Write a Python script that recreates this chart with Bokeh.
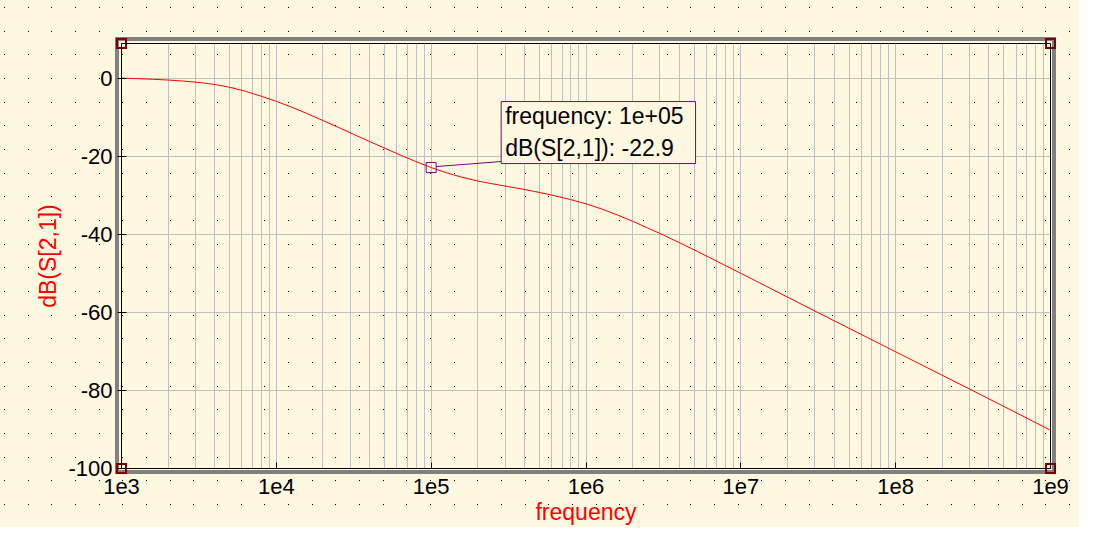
import math
from urllib.parse import quote
from bokeh.plotting import figure
from bokeh.models import FixedTicker, Label, Range1d
from bokeh.embed import file_html
from bokeh.resources import INLINE

# ---- data ----
freq = [1000, 1259, 1585, 1995, 2512, 3162, 3981, 5012, 6310, 7943,
        1.0e4, 1.259e4, 1.585e4, 1.995e4, 2.512e4, 3.162e4, 3.981e4, 5.012e4, 6.310e4, 7.943e4,
        1.0e5, 1.259e5, 1.585e5, 1.995e5, 2.512e5, 3.162e5, 3.981e5, 5.012e5, 6.310e5, 7.943e5,
        1.0e6, 1.259e6, 1.585e6, 1.995e6, 2.512e6, 3.162e6, 3.981e6, 5.012e6, 6.310e6, 7.943e6,
        1.0e7, 3.162e7, 1.0e8, 3.162e8, 1.0e9]
db_s21 = [0.0, -0.12, -0.28, -0.48, -0.75, -1.1, -1.6, -2.35, -3.35, -4.6,
          -5.95, -7.45, -9.1, -10.85, -12.6, -14.4, -16.2, -17.95, -19.7, -21.35,
          -22.9, -24.25, -25.4, -26.35, -27.1, -27.8, -28.5, -29.3, -30.15, -31.1,
          -32.2, -33.5, -35.0, -36.65, -38.4, -40.2, -42.1, -44.0, -46.0, -48.0,
          -50.0, -60.1, -70.1, -80.1, -90.2]

x_ticks = [1e3, 1e4, 1e5, 1e6, 1e7, 1e8, 1e9]
x_tick_labels = ["1e3", "1e4", "1e5", "1e6", "1e7", "1e8", "1e9"]
y_ticks = [-100, -80, -60, -40, -20, 0]
y_tick_labels = ["-100", "-80", "-60", "-40", "-20", "0"]

marker_freq = 1e5
marker_db = -22.9
marker_text = "frequency: 1e+05\ndB(S[2,1]): -22.9"

x_lo, x_hi = 1e3, 1e9
y_lo, y_hi = -100.0, 8.88

# ---- layout ----
FW, FH = 929, 425
BL, BR, BT, BB = 121, 29, 43, 57
W, H = BL + FW + BR, BT + FH + BB
BG = "#FFF8E1"
FONT = "Liberation Sans"
FS = "22px"
FS_LABEL = "23px"

# decorative schematic sheet: dot raster, grey diagram frame, corner handles
L, T, R, B = BL, BT, BL + FW, BT + FH
dots = "".join(f"<rect x='{x}' y='{y}' width='1' height='1' fill='black'/>"
               for x in (4, 28, 51) for y in (7, 31, 54))
corners = "".join(f"<rect x='{cx - 4.5}' y='{cy - 4.5}' width='9' height='9' fill='none' "
                  f"stroke='#800000' stroke-width='2'/>"
                  for cx in (L, R) for cy in (T, B))
svg = (f"<svg xmlns='http://www.w3.org/2000/svg' width='{W}' height='{H}' shape-rendering='crispEdges'>"
       f"<defs><pattern id='d' width='71' height='71' patternUnits='userSpaceOnUse'>{dots}</pattern></defs>"
       f"<rect x='0' y='0' width='{W}' height='{H}' fill='url(#d)'/>"
       f"<rect x='{L - 4}' y='{T - 4}' width='{R - L + 8}' height='{B - T + 8}' fill='none' "
       f"stroke='#808080' stroke-width='4'/>"
       f"{corners}</svg>")

p = figure(x_axis_type="log", x_range=Range1d(x_lo, x_hi), y_range=Range1d(y_lo, y_hi),
           frame_width=FW, frame_height=FH,
           min_border_left=BL, min_border_right=BR, min_border_top=BT, min_border_bottom=BB,
           output_backend="svg", toolbar_location=None)
p.background_fill_color = None
p.border_fill_color = None
p.styles = {"background-color": BG,
            "background-image": f"url(\"data:image/svg+xml,{quote(svg, safe='')}\")",
            "background-repeat": "no-repeat",
            "background-position": "0 0"}
p.outline_line_color = "black"
p.outline_line_width = 1

minor = [m * 10 ** d for d in range(3, 9) for m in range(2, 10)]
p.xaxis.ticker = FixedTicker(ticks=x_ticks, minor_ticks=minor)
p.xaxis.major_label_overrides = {int(v): s for v, s in zip(x_ticks, x_tick_labels)}
p.yaxis.ticker = FixedTicker(ticks=y_ticks)
p.yaxis.major_label_overrides = {v: s for v, s in zip(y_ticks, y_tick_labels)}

for ax in (p.xaxis[0], p.yaxis[0]):
    ax.axis_line_color = "black"
    ax.major_tick_line_color = "black"
    ax.minor_tick_line_color = None
    ax.major_label_text_font = FONT
    ax.major_label_text_font_size = FS
    ax.major_label_text_color = "black"
    ax.axis_label_text_font = FONT
    ax.axis_label_text_font_size = FS_LABEL
    ax.axis_label_text_color = "#FF0000"
    ax.axis_label_text_font_style = "normal"

p.xaxis.major_tick_in = 6
p.xaxis.major_tick_out = 0
p.xaxis.major_label_standoff = 6
p.xaxis.axis_label = "frequency"
p.xaxis.axis_label_standoff = 2
p.yaxis.major_tick_in = 5
p.yaxis.major_tick_out = 4
p.yaxis.major_label_standoff = 5
p.yaxis.axis_label = "dB(S[2,1])"
p.yaxis.axis_label_standoff = 4

p.xgrid.grid_line_color = "#C0C0C0"
p.xgrid.minor_grid_line_color = "#C0C0C0"
p.ygrid.grid_line_color = "#C0C0C0"

# curve
p.line(freq, db_s21, line_color="#FF0000", line_width=1)

# marker
px_per_dec = FW / math.log10(x_hi / x_lo)
px_per_db = FH / (y_hi - y_lo)
p.scatter([marker_freq], [marker_db], marker="square", size=10, fill_color=None,
          line_color="#800080", line_width=1)
p.line([marker_freq * 10 ** (5 / px_per_dec), marker_freq * 10 ** (70 / px_per_dec)],
       [marker_db + 1 / px_per_db, marker_db + 6 / px_per_db],
       line_color="#800080", line_width=1)
p.add_layout(Label(x=marker_freq, y=marker_db, x_offset=70, y_offset=4,
                   text=marker_text, text_font=FONT, text_font_size="23px",
                   text_color="black", text_line_height=1.23,
                   text_align="left", text_baseline="bottom",
                   background_fill_color=BG, border_line_color="#800080",
                   border_line_width=1,
                   padding=dict(left=4, right=12, top=1, bottom=3)))

open("out.html", "w").write(file_html(p, INLINE))
